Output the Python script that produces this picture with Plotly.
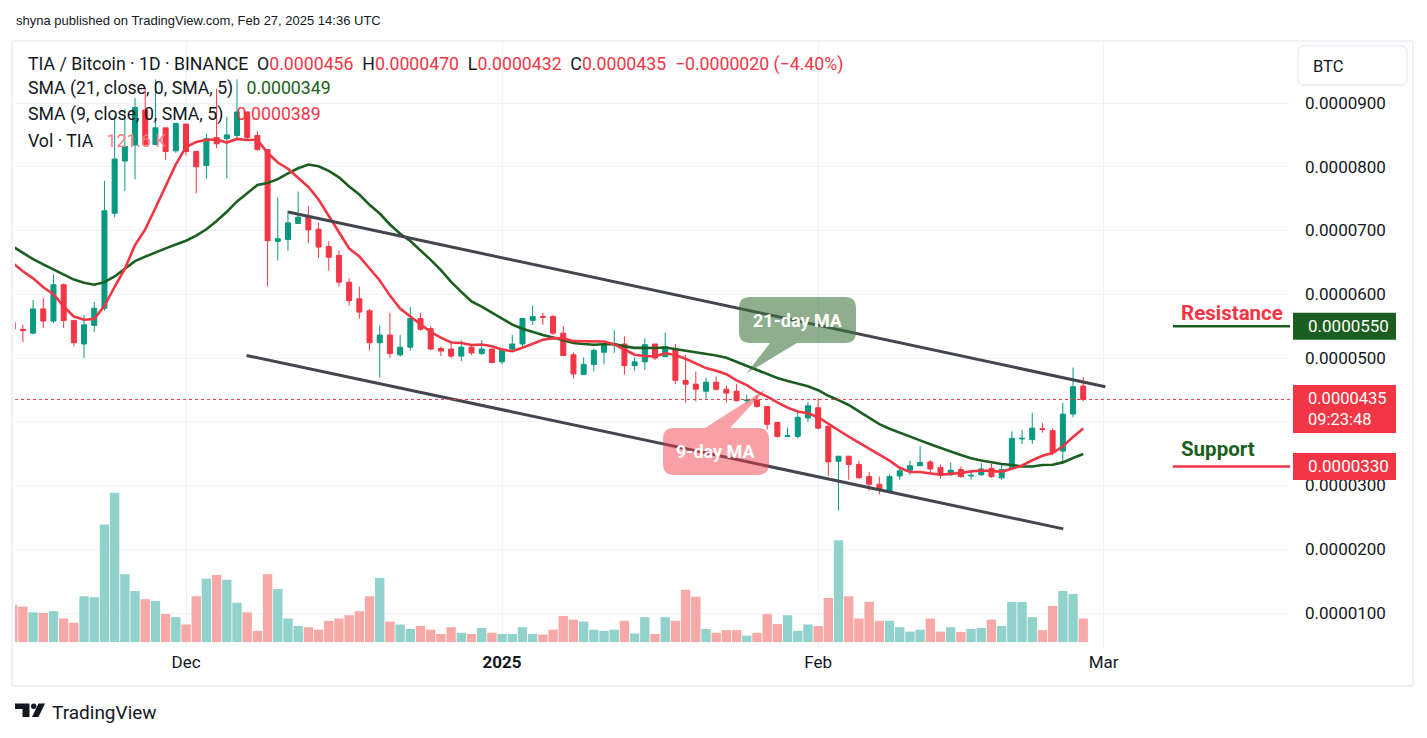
import numpy as np
import pandas as pd
import plotly.graph_objects as go

# ---------------- data (prices in units of 1e-7 BTC, volume in thousands) ----------------
start_date = "2024-11-14"

open_e7 = [556, 545, 539, 577, 558, 615, 559, 522, 551, 578,
           727, 809, 834, 889, 835, 861, 825, 867, 824, 802,
           846, 844, 849, 886, 849, 827, 683, 686, 711, 722,
           702, 675, 661, 619, 593, 574, 524, 536, 505, 517,
           562, 546, 515, 514, 503, 517, 507, 514, 494, 514,
           522, 559, 565, 565, 539, 505, 474, 490, 509, 521,
           522, 488, 494, 522, 502, 515, 465, 459, 448, 462,
           451, 448, 433, 434, 424, 399, 377, 377, 406, 422,
           393, 338, 346, 333, 314, 302, 291, 315, 324, 331,
           337, 328, 317, 325, 315, 317, 327, 312, 327, 373,
           372, 389, 386, 354, 412, 456]
high_e7 = [558, 552, 591, 594, 631, 617, 559, 568, 588, 778,
           880, 890, 908, 924, 937, 861, 868, 867, 825, 852,
           922, 878, 937, 886, 856, 827, 752, 731, 761, 738,
           712, 683, 669, 625, 612, 577, 551, 571, 536, 580,
           571, 550, 518, 522, 528, 519, 528, 515, 515, 536,
           562, 582, 571, 568, 550, 509, 501, 515, 525, 544,
           534, 501, 531, 522, 540, 522, 505, 479, 469, 471,
           457, 459, 442, 442, 424, 400, 391, 417, 431, 437,
           393, 346, 346, 339, 321, 314, 317, 328, 339, 362,
           340, 333, 336, 330, 321, 336, 334, 333, 385, 387,
           414, 398, 390, 430, 485, 470]
low_e7 = [540, 525, 537, 547, 555, 547, 518, 500, 541, 574,
          721, 762, 780, 834, 834, 811, 822, 818, 758, 781,
          829, 782, 843, 843, 825, 612, 653, 668, 711, 680,
          657, 637, 612, 582, 562, 512, 469, 500, 502, 512,
          543, 512, 503, 500, 495, 505, 505, 492, 490, 512,
          514, 552, 552, 536, 503, 468, 474, 479, 490, 508,
          474, 480, 481, 497, 502, 459, 430, 432, 434, 449,
          430, 432, 429, 422, 388, 375, 377, 374, 400, 388,
          315, 261, 309, 311, 292, 286, 290, 309, 317, 331,
          317, 311, 315, 312, 309, 315, 312, 309, 327, 365,
          365, 383, 348, 337, 407, 432]
close_e7 = [545, 543, 577, 558, 615, 559, 524, 552, 578, 731,
            812, 832, 893, 835, 861, 824, 868, 824, 800, 844,
            836, 850, 886, 846, 827, 684, 687, 712, 721, 701,
            674, 658, 619, 590, 572, 524, 536, 507, 517, 562,
            545, 514, 511, 503, 517, 508, 514, 493, 514, 522,
            562, 565, 564, 539, 504, 475, 490, 512, 522, 522,
            488, 494, 521, 500, 518, 465, 459, 451, 462, 451,
            445, 433, 434, 424, 396, 377, 378, 407, 425, 390,
            337, 346, 333, 312, 302, 293, 314, 323, 331, 336,
            326, 316, 324, 314, 316, 326, 314, 325, 374, 374,
            390, 388, 352, 412, 455, 435]
volume_k = [193, 183, 154, 151, 160, 122, 100, 237, 232, 608,
            772, 351, 264, 222, 212, 145, 129, 91, 237, 328,
            347, 322, 203, 154, 58, 351, 274, 122, 83, 77,
            64, 110, 122, 139, 160, 237, 332, 106, 91, 68,
            83, 64, 42, 77, 48, 42, 73, 48, 42, 42,
            77, 42, 39, 64, 135, 116, 106, 64, 58, 64,
            110, 44, 129, 42, 129, 110, 270, 235, 68, 48,
            62, 62, 33, 48, 145, 93, 139, 58, 91, 83,
            228, 527, 237, 122, 208, 110, 110, 77, 54, 64,
            122, 54, 77, 52, 68, 73, 116, 83, 207, 207,
            129, 62, 187, 264, 249, 121.6]

# moving-average values before enough history exists
sma21_warmup_e7 = [675, 665, 655, 647, 639, 630, 623, 618, 615, 619,
                   628, 640, 652, 659, 666, 672, 678, 684, 692, 702]
sma9_warmup_e7 = [649, 636, 625, 611, 600, 581, 565, 560]

# analyst drawings
channel_upper_dates = ["2024-12-11 00:15", "2025-03-01 04:00"]
channel_upper_e7 = [729, 455]
channel_lower_dates = ["2024-12-06 22:30", "2025-02-25 01:00"]
channel_lower_e7 = [504, 232]
resistance_e7 = 550
support_e7 = 330
level_start_date = "2025-03-07 19:00"
countdown_text = "09:23:48"

x_tick_dates = ["2024-12-01", "2025-01-01", "2025-02-01", "2025-03-01"]
x_tick_text = ["Dec", "<b>2025</b>", "Feb", "Mar"]
y_tick_e7 = [100, 200, 300, 400, 500, 600, 700, 800, 900]
y_tick_hidden_e7 = [400]   # label covered by the last-price tag

# ---------------- derived ----------------
SCALE = 1e-7
n = len(close_e7)
assert len(open_e7) == len(high_e7) == len(low_e7) == len(volume_k) == n
dates = pd.date_range(start_date, periods=n, freq="D")
o = np.array(open_e7) * SCALE
h = np.array(high_e7) * SCALE
l = np.array(low_e7) * SCALE
c = np.array(close_e7) * SCALE

cs = pd.Series(c)
sma9 = cs.rolling(9).mean().to_numpy()
sma9[:len(sma9_warmup_e7)] = np.array(sma9_warmup_e7) * SCALE
sma21 = cs.rolling(21).mean().to_numpy()
sma21[:len(sma21_warmup_e7)] = np.array(sma21_warmup_e7) * SCALE

UP, DOWN = "#089981", "#f23645"
VUP, VDOWN = "#92d2cc", "#f7a9a7"
DARK = "#131722"
GREEN_MA = "#1b5e20"
GRID = "#f0f3fa"
FONT = "Roboto"

W, H = 1427, 738
PL, PR, PT, PB = 15, 1290, 42, 650
YMIN, YMAX = 42.0, 995.7          # e7 units
VMIN, VMAX = -41, 3103            # volume axis (K)
x0 = pd.Timestamp(start_date) + pd.Timedelta(days=0.226)
x1 = pd.Timestamp(start_date) + pd.Timedelta(days=125.28)


def fx(px):
    return (px - PL) / (PR - PL)


def fy(py):
    return (PB - py) / (PB - PT)


def y_of(p_e7):
    return PT + (YMAX - p_e7) / (YMAX - YMIN) * (PB - PT)


def fmt(p):
    return f"{p:.7f}"


fig = go.Figure()
fig.add_trace(go.Bar(
    x=dates, y=volume_k, yaxis="y",
    marker=dict(color=[VUP if cc >= oo else VDOWN for oo, cc in zip(o, c)], line=dict(width=0)),
    showlegend=False, hoverinfo="skip"))
fig.add_trace(go.Candlestick(
    x=dates, open=o, high=h, low=l, close=c, yaxis="y2",
    increasing=dict(line=dict(color=UP, width=1), fillcolor=UP),
    decreasing=dict(line=dict(color=DOWN, width=1), fillcolor=DOWN),
    whiskerwidth=0, showlegend=False, hoverinfo="skip"))
fig.add_trace(go.Scatter(x=dates, y=sma21, yaxis="y2", mode="lines",
                         line=dict(color=GREEN_MA, width=2.6), showlegend=False, hoverinfo="skip"))
fig.add_trace(go.Scatter(x=dates, y=sma9, yaxis="y2", mode="lines",
                         line=dict(color=DOWN, width=2.6), showlegend=False, hoverinfo="skip"))

shapes = []
# outer border
shapes.append(dict(type="rect", xref="paper", yref="paper", x0=fx(12), x1=fx(1413), y0=fy(41), y1=fy(686),
                   line=dict(color="#e0e3eb", width=1), layer="below"))
# channel
for ds, ps in ((channel_upper_dates, channel_upper_e7), (channel_lower_dates, channel_lower_e7)):
    shapes.append(dict(type="line", xref="x", yref="y2", x0=ds[0], x1=ds[1],
                       y0=ps[0] * SCALE, y1=ps[1] * SCALE, line=dict(color="#434651", width=3), layer="above"))
# last price dotted line
shapes.append(dict(type="line", xref="paper", yref="y2", x0=0, x1=1, y0=c[-1], y1=c[-1],
                   line=dict(color=DOWN, width=1, dash="dot"), layer="above"))
# resistance / support
shapes.append(dict(type="line", xref="x", yref="y2", x0=level_start_date, x1=x1,
                   y0=resistance_e7 * SCALE, y1=resistance_e7 * SCALE, line=dict(color=GREEN_MA, width=2.5),
                   layer="above"))
shapes.append(dict(type="line", xref="x", yref="y2", x0=level_start_date, x1=x1,
                   y0=support_e7 * SCALE, y1=support_e7 * SCALE, line=dict(color=DOWN, width=2.5),
                   layer="above"))


def callout_path(bx0, by0, bx1, by1, r, ptr=None, side="bottom"):
    def P(x, y):
        return f"{fx(x):.5f},{fy(y):.5f}"
    d = f"M{P(bx0 + r, by0)}"
    if ptr is not None and side == "top":
        a, tip, b = ptr
        d += f" L{P(a, by0)} L{P(*tip)} L{P(b, by0)}"
    d += f" L{P(bx1 - r, by0)} Q{P(bx1, by0)} {P(bx1, by0 + r)}"
    d += f" L{P(bx1, by1 - r)} Q{P(bx1, by1)} {P(bx1 - r, by1)}"
    if ptr is not None and side == "bottom":
        a, tip, b = ptr
        d += f" L{P(a, by1)} L{P(*tip)} L{P(b, by1)}"
    d += f" L{P(bx0 + r, by1)} Q{P(bx0, by1)} {P(bx0, by1 - r)}"
    d += f" L{P(bx0, by0 + r)} Q{P(bx0, by0)} {P(bx0 + r, by0)} Z"
    return d


shapes.append(dict(type="path", xref="paper", yref="paper",
                   path=callout_path(739, 297, 856, 343, 11, ptr=(797, (746.7, 373.3), 770), side="bottom"),
                   fillcolor="rgba(60,115,60,0.58)", line=dict(width=0), layer="above"))
shapes.append(dict(type="path", xref="paper", yref="paper",
                   path=callout_path(663, 428, 769, 475, 11, ptr=(705, (766, 389), 730), side="top"),
                   fillcolor="rgba(242,54,69,0.48)", line=dict(width=0), layer="above"))

# BTC box
shapes.append(dict(type="path", xref="paper", yref="paper",
                   path=callout_path(1298, 46, 1407, 85, 6),
                   fillcolor="white", line=dict(color="#e0e3eb", width=1), layer="above"))

# price scale labels
BX0, BX1 = 1293, 1396
yr = y_of(resistance_e7)
shapes.append(dict(type="rect", xref="paper", yref="paper", x0=fx(BX0), x1=fx(BX1), y0=fy(yr - 13.5),
                   y1=fy(yr + 13.5), fillcolor=GREEN_MA, line=dict(width=0), layer="above"))
yc = y_of(close_e7[-1])
shapes.append(dict(type="rect", xref="paper", yref="paper", x0=fx(BX0), x1=fx(BX1), y0=fy(yc - 14.5),
                   y1=fy(yc + 33.5), fillcolor=DOWN, line=dict(width=0), layer="above"))
ys = y_of(support_e7)
shapes.append(dict(type="rect", xref="paper", yref="paper", x0=fx(BX0), x1=fx(BX1), y0=fy(ys - 13.5),
                   y1=fy(ys + 13.5), fillcolor=DOWN, line=dict(width=0), layer="above"))


# TradingView logo
def poly(pts):
    return "M" + " L".join(f"{fx(x):.5f},{fy(y):.5f}" for x, y in pts) + " Z"


shapes.append(dict(type="path", xref="paper", yref="paper",
                   path=poly([(15, 703.5), (29.5, 703.5), (29.5, 717), (22.5, 717), (22.5, 709), (15, 709)]),
                   fillcolor=DARK, line=dict(width=0), layer="above"))
shapes.append(dict(type="circle", xref="paper", yref="paper", x0=fx(31), x1=fx(36.4), y0=fy(703.5),
                   y1=fy(708.9), fillcolor=DARK, line=dict(width=0), layer="above"))
shapes.append(dict(type="path", xref="paper", yref="paper",
                   path=poly([(38.5, 703.5), (45, 703.5), (38.5, 717), (32, 717)]),
                   fillcolor=DARK, line=dict(width=0), layer="above"))


chg = c[-1] - c[-2]
pct = chg / c[-2] * 100
chg_txt = f"{chg:+.7f}".replace("-", "\u2212")
pct_txt = f"{pct:+.2f}%".replace("-", "\u2212")
sp = "\u00a0\u00a0"


def red(t):
    return f"<span style='color:{DOWN}'>{t}</span>"


line1 = (f"TIA / Bitcoin · 1D · BINANCE{sp}O{red(fmt(o[-1]))}{sp}H{red(fmt(h[-1]))}{sp}"
         f"L{red(fmt(l[-1]))}{sp}C{red(fmt(c[-1]))}{sp}{red(chg_txt + ' (' + pct_txt + ')')}")
line2 = f"SMA (21, close, 0, SMA, 5)\u00a0\u00a0 <span style='color:{GREEN_MA}'>{fmt(sma21[-1])}</span>"
line3 = f"SMA (9, close, 0, SMA, 5)\u00a0\u00a0 {red(fmt(sma9[-1]))}"
line4 = f"Vol · TIA\u00a0\u00a0 <span style='color:#f77c84'>{volume_k[-1]:.1f} K</span>"

ann = []


def text(x, y, t, size, color=DARK, anchor="left", family=FONT):
    ann.append(dict(x=fx(x), y=fy(y), xref="paper", yref="paper", text=t, showarrow=False,
                    xanchor=anchor, yanchor="middle", align="left",
                    font=dict(family=family, size=size, color=color)))


text(14, 21, "shyna published on TradingView.com, Feb 27, 2025 14:36 UTC", 13, family="Liberation Sans")
text(26, 64, line1, 17.7)
text(26, 89, line2, 17.7)
text(26, 115, line3, 17.7)
text(26, 141, line4, 17.7)
text(797.5, 320, "<b>21-day MA</b>", 18, color="white", anchor="center")
text(716, 451.5, "<b>9-day MA</b>", 18, color="white", anchor="center")
text(1179, 313, "<b>Resistance</b>", 20.5, color=DOWN)
text(1179, 449, "<b>Support</b>", 20.5, color=GREEN_MA)
text(1306, yr, fmt(resistance_e7 * SCALE), 17, color="white")
text(1306, yc + 10, f"{fmt(c[-1])}<br>{countdown_text}", 16.5, color="white")
text(1306, ys, fmt(support_e7 * SCALE), 17, color="white")
text(1328, 66, "BTC", 16.5, anchor="center")
text(50, 712, "TradingView", 19)

y_tick_vals = [v * SCALE for v in y_tick_e7]
y_tick_text = ["" if v in y_tick_hidden_e7 else fmt(v * SCALE) for v in y_tick_e7]

fig.update_layout(
    width=W, height=H, autosize=False,
    margin=dict(l=PL, r=W - PR, t=PT, b=H - PB, pad=0),
    paper_bgcolor="white", plot_bgcolor="white",
    showlegend=False, bargap=0.08,
    xaxis=dict(type="date", range=[x0, x1], tickvals=x_tick_dates, ticktext=x_tick_text,
               showgrid=True, gridcolor=GRID, gridwidth=1, zeroline=False, showline=False, ticks="",
               tickfont=dict(family=FONT, size=17, color=DARK), rangeslider=dict(visible=False),
               fixedrange=True),
    yaxis=dict(range=[VMIN, VMAX], visible=False, showgrid=False, fixedrange=True),
    yaxis2=dict(overlaying="y", side="right", range=[YMIN * SCALE, YMAX * SCALE],
                tickmode="array", tickvals=y_tick_vals, ticktext=y_tick_text,
                showgrid=True, gridcolor=GRID, gridwidth=1, zeroline=False, showline=False, ticks="",
                ticklabelstandoff=14, tickfont=dict(family=FONT, size=17, color=DARK), fixedrange=True),
    shapes=shapes, annotations=ann,
)

fig.write_html("out.html", config={"displayModeBar": False},
               post_script="document.body.style.margin='0px';")
